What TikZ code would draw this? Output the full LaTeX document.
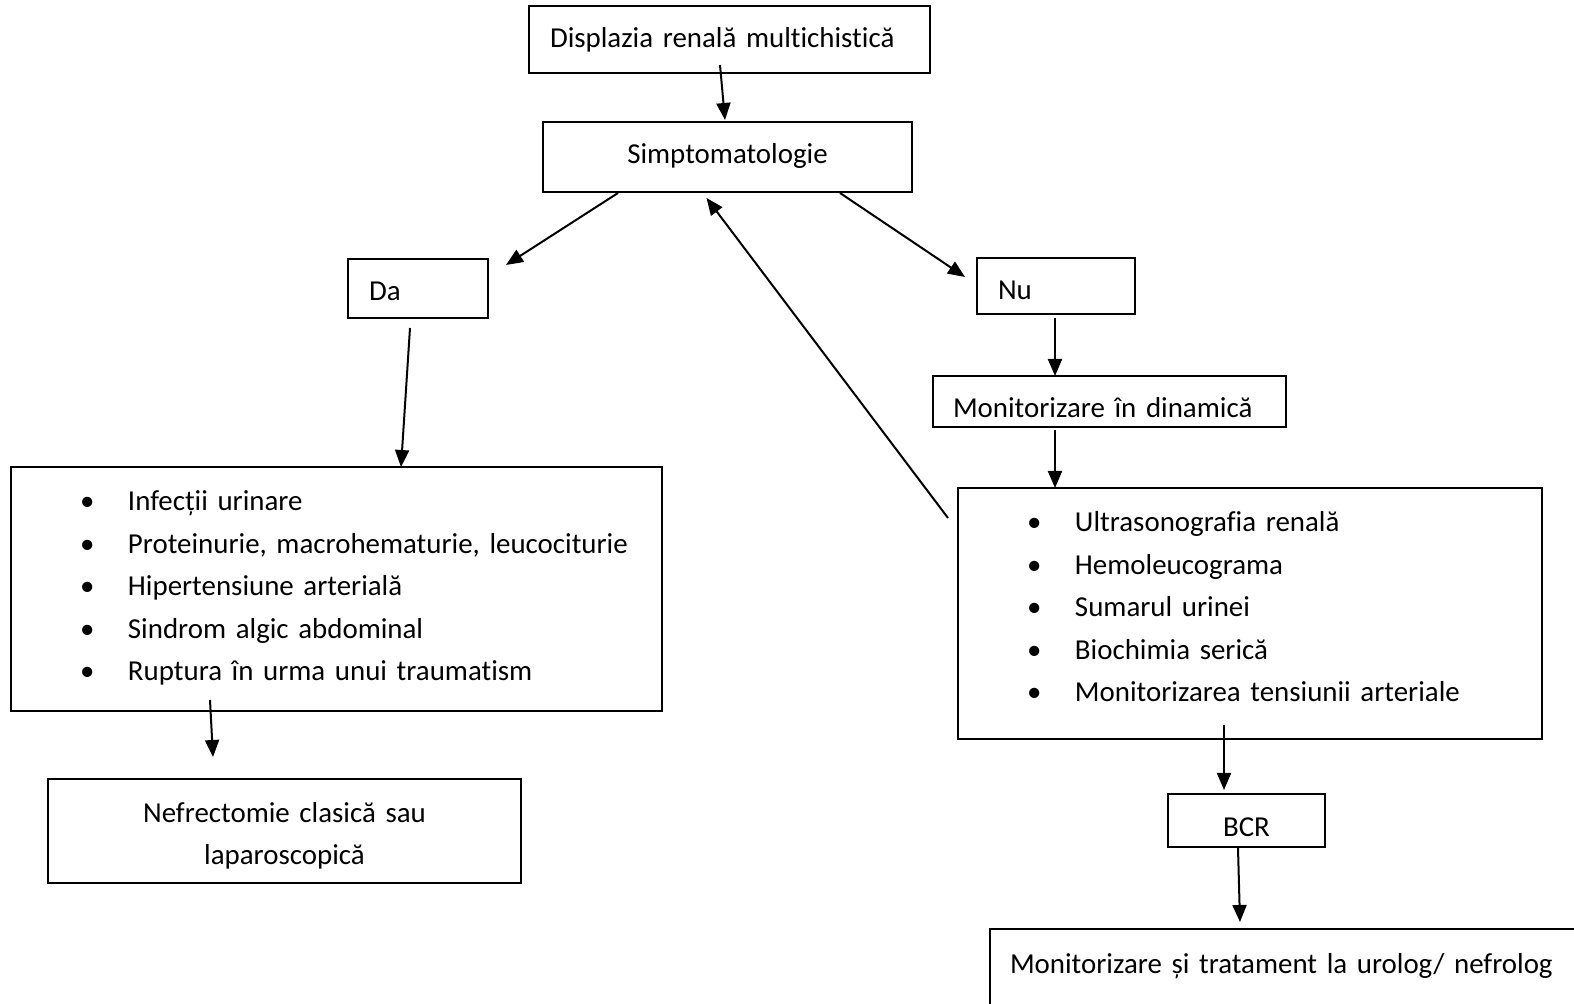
\documentclass[tikz,border=0pt]{standalone}
\usepackage{fontspec}
\setmainfont{Carlito}[Ligatures=NoCommon]
\usetikzlibrary{arrows.meta}
\newcommand{\blt}{\hspace*{34.5pt}\makebox[24pt][l]{\textbullet}}

\begin{document}
\begin{tikzpicture}[x=0.5pt,y=-0.5pt,
	box/.style={draw,line width=0.6pt,anchor=north west,outer sep=0pt,inner xsep=0pt,inner ysep=0pt,
		align=left,text height=21pt,font=\fontsize{14.45pt}{21.25pt}\selectfont},
	arr/.style={-{Triangle[length=8.5pt,width=7pt]},line width=1pt}]
		%%%%% START %%%%%
		\useasboundingbox (0,0) rectangle (1574,1004);
		
		\node[box,text width=200.5pt,text depth=12.5pt] (top) at (529,6) {\hspace*{10.5pt}Displazia renală multichistică};
		\node[box,align=center,text width=184.5pt,text depth=14pt] (simpt) at (543,122) {Simptomatologie};
		
		\node[box,text width=70pt,text depth=8.5pt] (da) at (348,259) {\hspace*{10.5pt}Da};
		\node[box,text width=79pt,text depth=7pt] (nu) at (977,258) {\hspace*{10.5pt}Nu};
		\node[box,text width=176.5pt,text depth=4.5pt] (dyn) at (933,376) {\hspace*{10pt}Monitorizare în dinamică};
		
		\node[box,text width=325.5pt,text height=22pt,text depth=100pt] (lst) at (11,467) {\blt Infecții urinare\\
			\blt Proteinurie, macrohematurie, leucociturie\\
			\blt Hipertensiune arterială\\
			\blt Sindrom algic abdominal\\
			\blt Ruptura în urma unui traumatism};
		\node[box,text width=292pt,text height=22pt,text depth=103.5pt] (rst) at (958,488) {\blt Ultrasonografia renală\\
			\blt Hemoleucograma\\
			\blt Sumarul urinei\\
			\blt Biochimia serică\\
			\blt Monitorizarea tensiunii arteriale};
		
		\node[box,align=center,text width=236.5pt,text height=21.5pt,text depth=30.5pt] (nef) at (48,779) {Nefrectomie clasică sau\\ laparoscopică};
		\node[box,align=center,text width=78.5pt,text depth=5.5pt] (bcr) at (1168,794) {BCR};
		\node[box,text width=305pt,text height=22pt,text depth=27.5pt] (fin) at (990,929) {\hspace*{10pt}Monitorizare și tratament la urolog/ nefrolog};
		
		\draw[arr] ([shift={(-9.5,-8)}]top.south) -- ([shift={(-2.5,-2)}]simpt.north);
		\draw[arr] ([shift={(-109.5,1)}]simpt.south) -- ([shift={(18,6)}]da.north east);
		\draw[arr] ([shift={(112.5,1)}]simpt.south) -- ([shift={(-12,19)}]nu.north west);
		\draw[arr] ([shift={(-10,30)}]rst.north west) -- ([shift={(-21,6)}]simpt.south);
		
		\draw[arr] ([shift={(-8,10)}]da.south) -- ([shift={(64.5,0)}]lst.north);
		\draw[arr] ([shift={(-1,4)}]nu.south) -- ([shift={(-54.5,0)}]dyn.north);
		\draw[arr] ([shift={(-54.5,3)}]dyn.south) -- ([shift={(-195,0)}]rst.north);
		
		\draw[arr] ([shift={(-126.5,-11)}]lst.south) -- ([shift={(-71.5,-22)}]nef.north);
		\draw[arr] ([shift={(-26,-14)}]rst.south) -- ([shift={(-22.5,-4)}]bcr.north);
		\draw[arr] ([shift={(-8.5,1)}]bcr.south) -- ([shift={(250,-7)}]fin.north west);
		
		%%%%% END %%%%%
	\end{tikzpicture}
\end{document}
